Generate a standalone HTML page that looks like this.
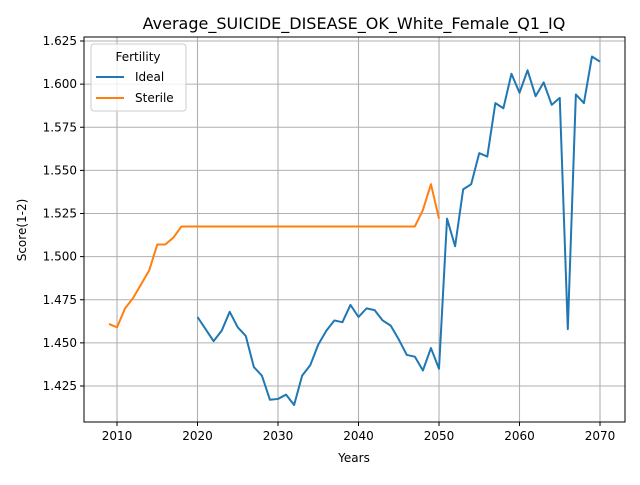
<!DOCTYPE html>
<html><head><meta charset="utf-8"><style>
body{margin:0;background:#fff;}
svg text{font-family:"DejaVu Sans","Liberation Sans",sans-serif;fill:#000;}
</style></head><body>
<svg id="chart" width="640" height="480" xmlns="http://www.w3.org/2000/svg">
<rect width="640" height="480" fill="#fff"/>
<g id="grid"></g>
<g id="series"></g>
<rect x="84" y="37" width="541" height="385" fill="none" stroke="#000" stroke-width="1"/>
<g id="axes"></g>
<text x="354" y="29" font-size="16" text-anchor="middle">Average_SUICIDE_DISEASE_OK_White_Female_Q1_IQ</text>
<text x="354" y="462" font-size="12" text-anchor="middle">Years</text>
<text x="26" y="230" font-size="12" text-anchor="middle" transform="rotate(-90 26 230)">Score(1-2)</text>
<g>
<rect x="91" y="44" width="95" height="67" rx="3" fill="#fff" fill-opacity="0.8" stroke="#ccc"/>
<text x="138" y="61" font-size="12" text-anchor="middle">Fertility</text>
<line x1="96" y1="77" x2="124" y2="77" stroke="#1f77b4" stroke-width="2"/>
<text x="135" y="81" font-size="12">Ideal</text>
<line x1="96" y1="98" x2="124" y2="98" stroke="#ff7f0e" stroke-width="2"/>
<text x="135" y="102" font-size="12">Sterile</text>
</g>
</svg>
<script>
const xTicks=[2010,2020,2030,2040,2050,2060,2070];
const yTicks=[1.425,1.450,1.475,1.500,1.525,1.550,1.575,1.600,1.625];
const idealYears=[2020,2021,2022,2023,2024,2025,2026,2027,2028,2029,2030,2031,2032,2033,2034,2035,2036,2037,2038,2039,2040,2041,2042,2043,2044,2045,2046,2047,2048,2049,2050,2051,2052,2053,2054,2055,2056,2057,2058,2059,2060,2061,2062,2063,2064,2065,2066,2067,2068,2069,2070];
const idealValues=[1.465,1.458,1.451,1.457,1.468,1.459,1.454,1.436,1.431,1.417,1.4175,1.420,1.414,1.431,1.437,1.449,1.457,1.463,1.462,1.472,1.465,1.470,1.469,1.463,1.460,1.452,1.443,1.442,1.434,1.447,1.435,1.522,1.506,1.539,1.542,1.560,1.558,1.589,1.586,1.606,1.595,1.608,1.593,1.601,1.588,1.592,1.458,1.594,1.589,1.616,1.613];
const sterileYears=[2009,2010,2011,2012,2013,2014,2015,2016,2017,2018,2019,2020,2021,2022,2023,2024,2025,2026,2027,2028,2029,2030,2031,2032,2033,2034,2035,2036,2037,2038,2039,2040,2041,2042,2043,2044,2045,2046,2047,2048,2049,2050];
const sterileValues=[1.461,1.459,1.470,1.476,1.484,1.492,1.507,1.507,1.511,1.5175,1.5175,1.5175,1.5175,1.5175,1.5175,1.5175,1.5175,1.5175,1.5175,1.5175,1.5175,1.5175,1.5175,1.5175,1.5175,1.5175,1.5175,1.5175,1.5175,1.5175,1.5175,1.5175,1.5175,1.5175,1.5175,1.5175,1.5175,1.5175,1.5175,1.527,1.542,1.522];
const NS='http://www.w3.org/2000/svg';
const X=y=>117+(y-2010)*8.05;
const Y=v=>41+(1.625-v)*1725;
const grid=document.getElementById('grid'),axes=document.getElementById('axes'),series=document.getElementById('series');
function mk(tag,attrs,parent){const e=document.createElementNS(NS,tag);for(const k in attrs)e.setAttribute(k,attrs[k]);parent.appendChild(e);return e;}
xTicks.forEach(t=>{
  const g=mk('line',{x1:X(t),x2:X(t),y1:37,y2:422,stroke:'#b0b0b0','stroke-width':1.1},grid);
  
  
  mk('line',{x1:X(t),x2:X(t),y1:422,y2:426,stroke:'#000'},axes);
  const tx=mk('text',{x:X(t),y:440,'font-size':12,'text-anchor':'middle'},axes);
  tx.textContent=t;
  
  
});
yTicks.forEach(t=>{
  const g=mk('line',{x1:84,x2:625,y1:Y(t),y2:Y(t),stroke:'#b0b0b0','stroke-width':1.1},grid);
  
  
  mk('line',{x1:80,x2:84,y1:Y(t),y2:Y(t),stroke:'#000'},axes);
  const tx=mk('text',{x:77,y:Y(t)+4,'font-size':12,'text-anchor':'end'},axes);
  tx.textContent=t.toFixed(3);
  
  
});
function line(xs,vs,color,name){
  const p=mk('polyline',{points:xs.map((x,i)=>X(x)+','+Y(vs[i])).join(' '),fill:'none',stroke:color,'stroke-width':2,'stroke-linejoin':'round'},series);
  
  
}
line(idealYears,idealValues,'#1f77b4','ideal-line');
line(sterileYears,sterileValues,'#ff7f0e','sterile-line');
</script>
</body></html>
